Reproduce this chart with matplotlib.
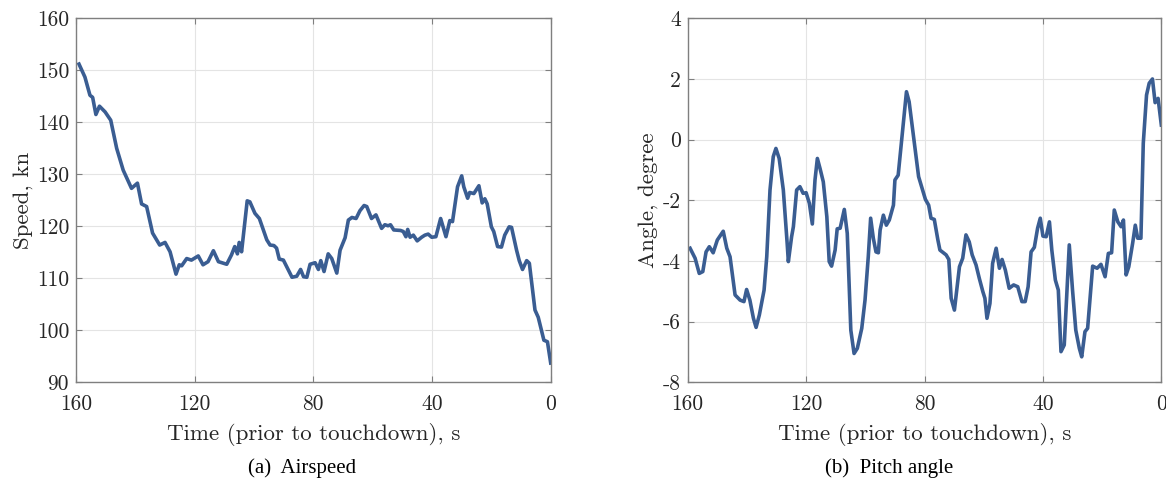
import numpy as np
import matplotlib
matplotlib.use("Agg")
import matplotlib.pyplot as plt

plt.rcParams["font.family"] = ["cmr10", "DejaVu Serif"]
plt.rcParams["axes.unicode_minus"] = False
plt.rcParams["axes.formatter.use_mathtext"] = True

# (a) airspeed, kn  (time before touchdown, s)
t_speed = [159.0, 157.0, 155.3, 154.4, 153.3, 152.1, 150.2, 148.3, 146.3, 144.1,
           141.3, 139.3, 137.9, 136.2, 134.2, 131.8, 130.0, 128.3, 126.3, 125.2,
           124.4, 122.7, 121.1, 118.8, 117.2, 115.5, 113.7, 112.0, 109.2, 107.6,
           106.5, 105.6, 105.0, 104.2, 102.3, 101.4, 99.7, 98.2, 95.7, 94.6,
           93.3, 92.4, 91.5, 90.1, 87.2, 85.6, 84.3, 83.3, 82.2, 81.1,
           79.4, 78.3, 77.5, 76.4, 75.0, 73.8, 72.1, 71.0, 69.3, 68.2,
           67.0, 65.6, 64.3, 62.9, 62.0, 60.4, 58.9, 57.0, 55.9, 54.8,
           54.0, 52.9, 50.6, 49.7, 48.8, 48.2, 47.4, 46.3, 45.0, 43.5,
           42.4, 41.3, 40.1, 38.7, 37.1, 35.3, 34.0, 33.1, 31.4, 30.0,
           29.3, 28.0, 27.3, 25.9, 24.2, 23.1, 22.2, 21.4, 20.0, 19.2,
           17.9, 16.6, 15.5, 14.0, 13.2, 11.5, 10.6, 9.5, 8.1, 7.2,
           5.3, 4.2, 2.3, 1.1, 0.0]
speed = [151.2, 148.7, 145.2, 144.8, 141.5, 143.1, 142.0, 140.4, 135.0, 130.8,
         127.3, 128.3, 124.3, 123.8, 118.7, 116.4, 116.9, 115.1, 110.8, 112.6,
         112.4, 113.8, 113.5, 114.3, 112.6, 113.2, 115.3, 113.2, 112.7, 114.5,
         116.1, 114.7, 116.9, 115.1, 124.9, 124.7, 122.5, 121.5, 117.4, 116.4,
         116.3, 115.8, 113.7, 113.5, 110.2, 110.4, 111.7, 110.3, 110.2, 112.7,
         113.0, 111.7, 113.4, 111.3, 114.7, 113.8, 111.0, 115.4, 117.8, 121.2,
         121.7, 121.5, 123.0, 124.0, 123.8, 121.5, 122.2, 119.6, 120.3, 120.1,
         120.3, 119.3, 119.2, 119.0, 118.0, 119.4, 117.9, 118.3, 117.2, 117.9,
         118.3, 118.5, 117.9, 118.0, 121.5, 118.0, 121.1, 120.9, 127.6, 129.7,
         127.6, 125.4, 126.5, 126.3, 127.8, 124.5, 125.3, 124.3, 119.9, 119.0,
         116.1, 116.0, 118.3, 119.9, 119.8, 115.4, 113.4, 111.7, 113.4, 112.9,
         103.9, 102.5, 98.1, 97.8, 93.7]

# (b) pitch angle, degree
t_pitch = [159.2, 157.5, 156.1, 154.9, 153.8, 152.7, 151.4, 150.0, 148.0, 146.8,
           145.7, 144.0, 142.3, 141.0, 140.1, 139.0, 137.8, 136.9, 135.8, 134.2,
           133.3, 132.2, 131.1, 130.2, 129.1, 127.7, 126.4, 126.0, 124.9, 124.3,
           123.2, 122.1, 121.0, 120.0, 118.9, 117.9, 117.0, 116.2, 115.3, 114.2,
           113.0, 112.2, 111.4, 110.2, 109.5, 108.5, 107.1, 106.1, 104.9, 103.8,
           102.7, 101.2, 100.1, 99.0, 98.2, 97.3, 96.4, 95.6, 95.0, 93.9,
           92.9, 91.9, 90.5, 90.0, 88.9, 88.0, 87.2, 86.1, 85.2, 84.0,
           82.9, 82.0, 80.8, 79.7, 78.6, 77.8, 76.7, 75.5, 74.8, 72.7,
           71.8, 71.0, 69.9, 68.2, 67.1, 66.0, 64.9, 63.9, 62.6, 61.5,
           60.3, 59.6, 58.9, 57.9, 57.0, 55.8, 54.7, 53.8, 52.7, 51.4,
           49.9, 48.5, 47.1, 46.0, 45.0, 44.0, 42.9, 41.8, 40.9, 40.0,
           38.9, 37.8, 37.0, 35.8, 34.8, 33.9, 32.8, 31.1, 30.0, 28.9,
           27.7, 26.9, 25.8, 24.9, 23.2, 21.7, 20.4, 19.0, 17.9, 16.8,
           15.9, 14.7, 13.6, 12.8, 11.9, 11.0, 9.7, 8.8, 8.0, 6.9,
           6.1, 5.0, 4.1, 3.0, 2.1, 1.1, 0.0]
pitch = [-3.58, -3.91, -4.41, -4.35, -3.70, -3.53, -3.73, -3.31, -3.02, -3.58,
         -3.86, -5.12, -5.29, -5.34, -4.94, -5.29, -5.89, -6.19, -5.78, -4.96,
         -3.86, -1.66, -0.56, -0.29, -0.62, -1.66, -3.42, -4.02, -3.20, -2.87,
         -1.66, -1.55, -1.77, -1.75, -2.10, -2.78, -1.33, -0.62, -0.95, -1.39,
         -2.54, -4.02, -4.17, -3.64, -2.94, -2.92, -2.30, -3.09, -6.28, -7.05,
         -6.88, -6.22, -5.29, -3.86, -2.59, -3.25, -3.70, -3.73, -2.98, -2.49,
         -2.82, -2.65, -2.16, -1.33, -1.17, -0.29, 0.48, 1.58, 1.25, 0.32,
         -0.56, -1.22, -1.61, -1.97, -2.16, -2.59, -2.63, -3.30, -3.64, -3.80,
         -3.95, -5.23, -5.62, -4.19, -3.91, -3.14, -3.37, -3.80, -4.13, -4.57,
         -5.01, -5.23, -5.89, -5.40, -4.08, -3.58, -4.24, -3.95, -4.30, -4.90,
         -4.79, -4.85, -5.34, -5.34, -4.85, -3.70, -3.55, -2.92, -2.59, -3.18,
         -3.20, -2.71, -3.64, -4.63, -4.96, -6.99, -6.77, -3.47, -4.96, -6.28,
         -6.88, -7.16, -6.33, -6.22, -4.17, -4.24, -4.11, -4.52, -3.75, -3.73,
         -2.32, -2.71, -2.87, -2.65, -4.46, -4.19, -3.42, -2.82, -3.25, -3.25,
         -0.12, 1.47, 1.86, 2.00, 1.22, 1.36, 0.48]

x_ticks = [160, 120, 80, 40, 0]
speed_ticks = [90, 100, 110, 120, 130, 140, 150, 160]
pitch_ticks = [-8, -6, -4, -2, 0, 2, 4]

line_color = "#3a5d92"

fig = plt.figure(figsize=(11.66, 4.78), dpi=100)
ax1 = fig.add_axes([0.0652, 0.2002, 0.4071, 0.7615])
ax2 = fig.add_axes([0.5898, 0.2002, 0.4062, 0.7615])

def style(ax, yticks, ylabel):
    ax.set_xlim(160, 0)
    ax.set_ylim(yticks[0], yticks[-1])
    ax.set_xticks(x_ticks)
    ax.set_xticklabels([str(v) for v in x_ticks])
    ax.set_yticks(yticks)
    ax.set_yticklabels([str(v) for v in yticks])
    ax.grid(True, color="#e4e4e4", linewidth=0.8)
    ax.set_axisbelow(True)
    for s in ax.spines.values():
        s.set_color("#7f7f7f")
        s.set_linewidth(1.0)
    ax.tick_params(direction="in", length=4, width=0.8, color="#7f7f7f",
                   labelsize=15.5, labelcolor="#262626",
                   top=True, right=True, pad=5)
    ax.tick_params(axis="x", pad=9)
    ax.set_xlabel("Time (prior to touchdown), s", fontsize=16.5, color="#262626", labelpad=6)
    ax.set_ylabel(ylabel, fontsize=16.5, color="#262626", labelpad=3)

ax1.plot(t_speed, speed, color=line_color, linewidth=2.6)
style(ax1, speed_ticks, "Speed, kn")

ax2.plot(t_pitch, pitch, color=line_color, linewidth=2.6)
style(ax2, pitch_ticks, "Angle, degree")

fig.text(302 / 1166, 1 - 468 / 478, "(a)  Airspeed", ha="center", va="center",
         fontsize=15, family=["Liberation Serif"])
fig.text(889 / 1166, 1 - 468 / 478, "(b)  Pitch angle", ha="center", va="center",
         fontsize=15, family=["Liberation Serif"])

fig.savefig("out.png", dpi=100)
